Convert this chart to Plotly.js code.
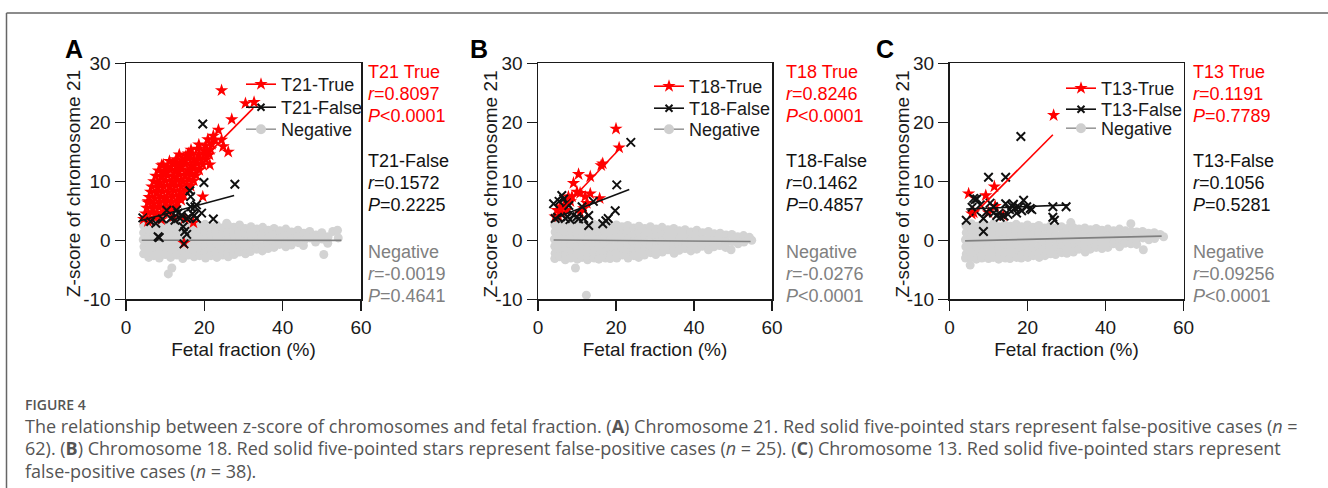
<!DOCTYPE html>
<html><head><meta charset="utf-8">
<script src="https://cdn.plot.ly/plotly-3.0.1.min.js"></script>
<style>html,body{margin:0;padding:0;background:#fff;overflow:hidden}#chart{width:1328px;height:488px}</style>
</head><body><div id="chart"></div>
<script>
// ---------------- DATA ----------------
// Negative samples: [fetal fraction %, z-score]
const negA = [
[4.5,2.5],[4.5,1.3],[4.4,0.1],[4.6,-1.1],[4.5,-2.3],
[5.8,2.8],[5.9,1.6],[5.7,0.5],[5.8,-0.6],[5.9,-1.8],[5.8,-2.9],
[7.2,2.3],[7.1,1.0],[7.3,-0.2],[7.2,-1.4],[7.1,-2.6],
[8.6,2.7],[8.7,1.5],[8.5,0.4],[8.6,-0.8],[8.7,-2.0],[8.5,-3.0],
[10.1,2.4],[10.0,1.2],[10.2,0.0],[10.1,-1.2],[10.0,-2.4],
[11.5,2.9],[11.6,1.7],[11.4,0.6],[11.5,-0.5],[11.6,-1.7],[11.4,-2.9],
[12.9,2.2],[13.0,1.0],[12.8,-0.1],[12.9,-1.3],[13.0,-2.5],
[14.4,2.6],[14.3,1.5],[14.5,0.3],[14.4,-0.9],[14.3,-2.1],[14.5,-3.1],
[15.8,2.4],[15.9,1.2],[15.7,0.0],[15.8,-1.2],[15.9,-2.5],
[17.3,2.8],[17.2,1.6],[17.4,0.5],[17.3,-0.7],[17.2,-1.9],[17.4,-2.8],
[18.7,2.3],[18.8,1.1],[18.6,-0.1],[18.7,-1.3],[18.8,-2.6],
[20.2,2.7],[20.1,1.4],[20.3,0.3],[20.2,-0.9],[20.1,-2.1],[20.3,-3.0],
[21.6,2.2],[21.7,1.0],[21.5,-0.2],[21.6,-1.4],[21.7,-2.6],
[23.1,2.6],[23.0,1.5],[23.2,0.4],[23.1,-0.8],[23.0,-2.0],[23.2,-2.9],
[24.6,2.1],[24.7,0.9],[24.5,-0.3],[24.6,-1.5],[24.7,-2.5],
[26.0,2.5],[25.9,1.3],[26.1,0.2],[26.0,-1.0],[25.9,-2.2],[26.1,-2.8],
[27.5,2.2],[27.6,1.0],[27.4,-0.2],[27.5,-1.3],[27.6,-2.4],
[29.0,2.6],[28.9,1.4],[29.1,0.3],[29.0,-0.9],[28.9,-2.0],
[30.4,2.0],[30.5,0.8],[30.3,-0.3],[30.4,-1.5],[30.5,-2.3],
[31.9,2.3],[31.8,1.2],[32.0,0.1],[31.9,-1.0],[31.8,-1.9],
[33.4,1.9],[33.5,0.7],[33.3,-0.4],[33.4,-1.5],
[34.9,2.2],[34.8,1.0],[35.0,0.0],[34.9,-1.1],[34.8,-1.8],
[36.3,1.7],[36.4,0.5],[36.2,-0.6],[36.3,-1.4],
[37.8,2.0],[37.7,0.9],[37.9,-0.2],[37.8,-1.2],
[39.3,1.6],[39.4,0.4],[39.2,-0.7],
[40.8,1.9],[40.7,0.8],[40.9,-0.3],[40.8,-1.1],
[42.3,1.4],[42.4,0.2],[42.2,-0.8],
[43.9,1.7],[43.8,0.6],[44.0,-0.4],
[45.4,1.2],[45.5,0.0],[45.3,-0.9],
[46.9,1.5],[47.0,0.4],
[48.5,0.9],[48.4,-0.3],
[50.0,1.3],[50.1,0.2],
[51.6,0.6],[51.5,-0.5],
[52.8,1.5],[54.0,1.7],[54.2,0.4],
[11.7,-4.7],[10.8,-5.7],[50.5,-2.4],[25.7,2.9]
];
const negB = [
[4.3,2.6],[4.4,1.4],[4.2,0.2],[4.3,-1.0],[4.4,-2.2],[4.3,-3.1],
[5.7,2.9],[5.8,1.8],[5.6,0.6],[5.7,-0.6],[5.8,-1.7],[5.6,-2.8],
[7.1,2.4],[7.2,1.2],[7.0,0.0],[7.1,-1.2],[7.2,-2.4],[7.0,-3.3],
[8.5,2.8],[8.6,1.6],[8.4,0.4],[8.5,-0.8],[8.6,-2.0],[8.4,-3.0],
[10.0,2.5],[9.9,1.3],[10.1,0.1],[10.0,-1.1],[9.9,-2.3],[10.1,-3.2],
[11.4,2.9],[11.5,1.7],[11.3,0.5],[11.4,-0.7],[11.5,-1.9],[11.3,-2.9],
[12.8,2.4],[12.9,1.2],[12.7,0.0],[12.8,-1.2],[12.9,-2.4],[12.7,-3.3],
[14.3,2.7],[14.2,1.5],[14.4,0.3],[14.3,-0.9],[14.2,-2.1],[14.4,-3.0],
[15.7,2.5],[15.8,1.3],[15.6,0.1],[15.7,-1.1],[15.8,-2.3],[15.6,-3.2],
[17.2,2.8],[17.1,1.6],[17.3,0.4],[17.2,-0.8],[17.1,-2.0],[17.3,-3.0],
[18.6,2.4],[18.7,1.2],[18.5,0.0],[18.6,-1.2],[18.7,-2.4],[18.5,-3.1],
[20.1,2.6],[20.0,1.4],[20.2,0.2],[20.1,-1.0],[20.0,-2.2],[20.2,-3.0],
[21.5,2.3],[21.6,1.1],[21.4,-0.1],[21.5,-1.3],[21.6,-2.5],
[23.0,2.5],[22.9,1.3],[23.1,0.2],[23.0,-1.0],[22.9,-2.2],[23.1,-3.0],
[24.5,2.1],[24.6,0.9],[24.4,-0.3],[24.5,-1.5],[24.6,-2.6],
[25.9,2.4],[26.0,1.2],[25.8,0.0],[25.9,-1.2],[26.0,-2.3],[25.8,-2.9],
[27.4,2.0],[27.3,0.8],[27.5,-0.4],[27.4,-1.5],[27.3,-2.5],
[28.8,2.3],[28.9,1.1],[28.7,0.0],[28.8,-1.1],[28.9,-2.1],
[30.3,1.9],[30.2,0.7],[30.4,-0.4],[30.3,-1.5],[30.2,-2.4],
[31.8,2.2],[31.9,1.0],[31.7,-0.1],[31.8,-1.2],[31.9,-2.0],
[33.3,1.8],[33.2,0.6],[33.4,-0.5],[33.3,-1.6],
[34.8,2.0],[34.9,0.9],[34.7,-0.2],[34.8,-1.3],[34.9,-2.2],
[36.2,1.6],[36.3,0.4],[36.1,-0.7],[36.2,-1.7],
[37.7,1.8],[37.6,0.7],[37.8,-0.4],[37.7,-1.4],
[39.2,1.4],[39.3,0.2],[39.1,-0.9],[39.2,-1.8],
[40.7,1.7],[40.6,0.6],[40.8,-0.5],[40.7,-1.5],
[42.2,1.3],[42.3,0.1],[42.1,-1.0],
[43.7,1.5],[43.8,0.4],[43.6,-0.7],[43.7,-1.6],
[45.2,1.1],[45.3,-0.1],[45.1,-1.1],
[46.7,1.2],[46.8,0.1],[46.6,-0.9],
[48.2,0.9],[48.3,-0.3],[48.1,-1.2],
[49.7,1.0],[49.8,-0.2],
[51.2,0.6],[51.3,-0.6],
[52.7,0.8],[52.8,-0.3],
[54.2,0.5],[54.8,0.0],
[9.6,-4.7],[12.4,-9.3],[49.5,-1.6]
];
const negC = [
[4.2,2.5],[4.3,1.3],[4.1,0.1],[4.2,-1.1],[4.3,-2.3],[4.1,-3.0],
[5.6,2.8],[5.7,1.7],[5.5,0.5],[5.6,-0.7],[5.7,-1.9],[5.5,-2.9],[5.3,-4.2],
[7.0,2.4],[7.1,1.2],[6.9,0.0],[7.0,-1.2],[7.1,-2.4],[6.9,-3.2],
[8.4,2.7],[8.5,1.5],[8.3,0.3],[8.4,-0.9],[8.5,-2.1],[8.3,-3.0],
[9.9,2.4],[9.8,1.2],[10.0,0.0],[9.9,-1.2],[9.8,-2.4],[10.0,-3.1],
[11.3,2.8],[11.4,1.6],[11.2,0.4],[11.3,-0.8],[11.4,-2.0],[11.2,-2.9],
[12.7,2.3],[12.8,1.1],[12.6,-0.1],[12.7,-1.3],[12.8,-2.5],[12.6,-3.2],
[14.2,2.6],[14.1,1.4],[14.3,0.2],[14.2,-1.0],[14.1,-2.2],[14.3,-3.0],
[15.6,2.4],[15.7,1.2],[15.5,0.0],[15.6,-1.2],[15.7,-2.4],[15.5,-3.1],
[17.1,2.7],[17.0,1.5],[17.2,0.3],[17.1,-0.9],[17.0,-2.1],[17.2,-2.9],
[18.5,2.3],[18.6,1.1],[18.4,-0.1],[18.5,-1.3],[18.6,-2.5],[18.4,-3.0],
[20.0,2.6],[19.9,1.4],[20.1,0.2],[20.0,-1.0],[19.9,-2.2],[20.1,-2.9],
[21.4,2.2],[21.5,1.0],[21.3,-0.2],[21.4,-1.4],[21.5,-2.6],
[22.9,2.5],[22.8,1.3],[23.0,0.1],[22.9,-1.1],[22.8,-2.2],[23.0,-2.9],
[24.4,2.1],[24.5,0.9],[24.3,-0.3],[24.4,-1.5],[24.5,-2.6],
[25.8,2.4],[25.9,1.2],[25.7,0.0],[25.8,-1.2],[25.9,-2.3],
[27.3,2.1],[27.2,0.9],[27.4,-0.2],[27.3,-1.4],[27.2,-2.4],
[28.7,2.3],[28.8,1.1],[28.6,0.0],[28.7,-1.1],[28.8,-2.1],
[30.2,2.0],[30.1,0.8],[30.3,-0.3],[30.2,-1.4],[30.1,-2.2],[31.1,3.0],
[31.7,2.2],[31.8,1.0],[31.6,-0.1],[31.7,-1.2],[31.8,-2.0],
[33.2,1.9],[33.1,0.7],[33.3,-0.4],[33.2,-1.5],
[34.7,2.1],[34.8,1.0],[34.6,-0.1],[34.7,-1.2],[34.8,-2.0],
[36.1,1.8],[36.2,0.6],[36.0,-0.5],[36.1,-1.5],
[37.6,2.0],[37.5,0.9],[37.7,-0.2],[37.6,-1.2],
[39.1,1.7],[39.2,0.6],[39.0,-0.5],[39.1,-1.4],
[40.6,1.9],[40.5,0.8],[40.7,-0.3],[40.6,-1.2],
[42.1,1.6],[42.2,0.5],[42.0,-0.6],
[43.6,1.9],[43.5,0.8],[43.7,-0.3],[43.6,-1.1],
[45.1,1.6],[45.2,0.5],[45.0,-0.5],
[46.5,2.8],[46.6,1.5],[46.7,0.4],[46.5,-0.6],
[48.0,1.4],[48.1,0.3],[48.0,-0.7],
[49.5,1.5],[49.6,0.4],[49.7,-1.6],
[51.0,1.2],[51.1,0.1],
[52.5,1.3],[52.6,0.3],
[54.0,1.0],[54.9,0.6]
];
// True cases (red stars)
const trueA = [
[4.5,3.6],[6.1,3.4],[7.4,3.8],[9.0,3.5],[5.6,3.2],
[5.0,4.5],[6.6,4.7],[8.1,4.4],[9.6,4.6],[11.0,4.9],
[5.3,5.5],[6.9,5.3],[8.4,5.6],[9.9,5.4],[11.4,5.7],[12.6,5.6],
[5.6,6.4],[7.1,6.2],[8.6,6.5],[10.1,6.3],[11.6,6.6],[13.1,6.4],[14.1,6.8],
[5.9,7.3],[7.4,7.1],[8.9,7.4],[10.4,7.2],[11.9,7.5],[13.4,7.3],[14.7,7.6],
[6.3,8.2],[7.8,8.0],[9.3,8.3],[10.8,8.1],[12.3,8.4],[13.8,8.2],[15.3,8.5],
[6.6,9.1],[8.1,8.9],[9.6,9.2],[11.1,9.0],[12.6,9.3],[14.1,9.1],[15.6,9.4],[16.5,9.2],
[7.1,10.0],[8.6,9.8],[10.1,10.1],[11.6,9.9],[13.1,10.2],[14.6,10.0],[16.1,10.3],[17.3,10.1],
[7.6,10.9],[9.1,10.7],[10.6,11.0],[12.1,10.8],[13.6,11.1],[15.1,10.9],[16.6,11.2],[17.9,11.0],
[8.3,11.8],[9.8,11.6],[11.3,11.9],[12.8,11.7],[14.3,12.0],[15.8,11.8],[17.3,12.1],[18.7,11.9],
[9.1,12.7],[10.6,12.5],[12.1,12.8],[13.6,12.6],[15.1,12.9],[16.6,12.7],[18.1,13.0],[19.6,12.8],
[11.1,13.4],[12.8,13.7],[14.4,13.5],[15.9,13.8],[17.4,13.6],[18.9,13.9],[20.4,13.7],
[13.6,14.5],[15.3,14.3],[16.9,14.6],[18.5,14.4],[20.1,14.7],[21.3,14.5],
[16.6,15.3],[18.3,15.5],[19.9,15.2],[21.6,15.4],
[18.6,16.2],[20.3,16.0],[21.9,16.3],
[20.9,17.1],[22.7,17.0],
[5.7,6.6],[8.0,9.7],[9.5,12.8],[12.5,13.1],[15.9,14.7],[20.6,15.0],[21.4,12.8],
[26.1,15.0],[24.8,15.9],[24.4,17.0],[23.6,18.7],[22.3,17.7],[27.0,20.5],[24.4,25.4],[30.5,23.2],[32.7,23.4],
[19.6,7.4],[14.8,-0.5],[17.2,3.0],[15.0,3.7],[12.1,4.0]
];
const trueB = [
[20.0,18.9],[20.8,15.7],[16.6,13.0],[16.2,12.7],[10.4,11.2],[13.4,10.8],[9.1,9.7],
[10.0,8.2],[10.8,8.0],[7.8,7.4],[8.7,7.4],[13.4,7.9],[15.8,7.1],[12.1,7.4],
[4.9,5.1],[5.7,5.7],[6.7,6.0],[6.1,4.6],[7.4,5.1],[5.3,4.0],[4.4,4.0],[8.3,6.6],
[12.5,6.3],[10.8,4.7],[11.7,5.4]
];
const trueC = [
[26.7,21.2],[4.9,7.9],[9.3,7.6],[11.5,9.1],[5.7,4.5],[6.2,4.7],[10.0,4.7],[11.7,5.8],[13.8,4.2]
];
// False cases (black crosses)
const falseA = [
[19.6,19.7],[19.9,9.8],[27.8,9.5],[16.3,8.4],[16.5,7.4],[4.3,3.8],[6.3,3.2],[7.6,2.9],
[8.5,0.45],[8.2,0.6],[12.9,5.1],[13.3,4.6],[15.5,3.7],[14.6,2.3],[15.0,1.5],[15.5,1.0],
[14.8,-0.6],[18.0,6.0],[17.6,5.7],[19.3,4.6],[18.0,3.7],[22.3,3.6],[17.0,4.5],[11.4,3.7],
[12.5,3.4],[13.8,3.7],[10.4,5.1],[16.5,5.7],[14.2,4.3],[9.3,3.6],[16.0,3.9],[17.4,4.2]
];
const falseB = [
[23.8,16.6],[20.2,9.4],[19.8,5.0],[4.0,6.2],[6.1,7.6],[6.6,7.0],[7.4,6.3],[7.9,5.9],
[4.4,3.7],[5.0,3.9],[7.0,3.7],[7.6,4.0],[10.0,4.0],[10.4,3.6],[11.7,3.7],[13.0,4.2],
[13.0,2.5],[14.2,6.6],[16.6,2.8],[17.4,3.3],[18.0,3.7],[11.3,5.7],[9.1,4.3],[5.4,6.6],[8.2,3.5]
];
const falseC = [
[18.3,17.6],[10.0,10.7],[14.4,10.7],[6.2,7.1],[7.0,7.0],[6.6,6.9],[4.3,3.4],[8.7,1.5],
[8.7,3.7],[7.9,6.0],[10.4,6.3],[11.3,5.7],[12.7,4.6],[11.3,4.6],[12.1,4.2],[14.4,6.2],
[15.4,5.2],[16.0,5.8],[16.4,6.1],[16.8,5.4],[17.2,4.6],[15.0,4.4],[14.0,4.1],[19.0,6.8],
[19.8,5.7],[20.7,5.4],[21.1,5.2],[26.5,5.7],[29.9,5.7],[26.5,3.9],[26.9,3.4],[13.0,3.9],
[9.5,4.8],[17.8,5.6],[18.5,5.0],[6.8,4.9],[5.8,5.6]
];
// Regression lines (end points)
const fitA_true = {x:[4.0,32.5], y:[3.3,22.4]};
const fitA_false = {x:[3.6,27.6], y:[3.3,7.6]};
const fitA_neg = {x:[4.0,55.0], y:[0.02,-0.02]};
const fitB_true = {x:[4.4,21.5], y:[4.0,15.9]};
const fitB_false = {x:[4.4,23.4], y:[3.8,8.6]};
const fitB_neg = {x:[4.0,54.5], y:[0.05,-0.2]};
const fitC_true = {x:[6.2,26.5], y:[4.4,17.9]};
const fitC_false = {x:[4.3,30.5], y:[5.3,6.0]};
const fitC_neg = {x:[4.0,54.4], y:[-0.1,0.7]};
// Labels
const panelLetters = ['A','B','C'];
const legendNames = [['T21-True','T21-False','Negative'],['T18-True','T18-False','Negative'],['T13-True','T13-False','Negative']];
const statsA = [['T21 True','<i>r</i>=0.8097','<i>P</i>&lt;0.0001'],['T21-False','<i>r</i>=0.1572','<i>P</i>=0.2225'],['Negative','<i>r</i>=-0.0019','<i>P</i>=0.4641']];
const statsB = [['T18 True','<i>r</i>=0.8246','<i>P</i>&lt;0.0001'],['T18-False','<i>r</i>=0.1462','<i>P</i>=0.4857'],['Negative','<i>r</i>=-0.0276','<i>P</i>&lt;0.0001']];
const statsC = [['T13 True','<i>r</i>=0.1191','<i>P</i>=0.7789'],['T13-False','<i>r</i>=0.1056','<i>P</i>=0.5281'],['Negative','<i>r</i>=0.09256','<i>P</i>&lt;0.0001']];
const xTitle = 'Fetal fraction (%)';
const yTitle = 'Z-score of chromosome 21';
const xTicks = [0,20,40,60];
const xTickText = ['0','20','40','60'];
const yTicks = [-10,0,10,20,30];
const yTickText = ['-10','0','10','20','30'];
const captionHead = 'FIGURE 4';
const captionLines = [
 'The relationship between z-score of chromosomes and fetal fraction. (<b>A</b>) Chromosome 21. Red solid five-pointed stars represent false-positive cases (<i>n</i> =',
 '62). (<b>B</b>) Chromosome 18. Red solid five-pointed stars represent false-positive cases (<i>n</i> = 25). (<b>C</b>) Chromosome 13. Red solid five-pointed stars represent',
 'false-positive cases (<i>n</i> = 38).'
];

// ---------------- LAYOUT / STYLE ----------------
const W = 1328, H = 488;
const PX = v => v / W, PY = v => 1 - v / H;
const FONT = 'Liberation Sans, Arial, sans-serif';
const RED = '#ff0000', BLACK = '#111111', DOT = '#d3d3d3', GLINE = '#808080', GTEXT = '#808080';
const AX = '#1a1a1a';

const panels = [
  {neg:negA, tr:trueA, fa:falseA, ft:fitA_true, ff:fitA_false, fn:fitA_neg, stats:statsA,
   xd:[126,361], legL:241, legY:[84,107,129], letX:74, statX:367, ytX:73},
  {neg:negB, tr:trueB, fa:falseB, ft:fitB_true, ff:fitB_false, fn:fitB_neg, stats:statsB,
   xd:[538,772], legL:649, legY:[86,108,129], letX:479, statX:785, ytX:489.5},
  {neg:negC, tr:trueC, fa:falseC, ft:fitC_true, ff:fitC_false, fn:fitC_neg, stats:statsC,
   xd:[949.5,1183.5], legL:1061, legY:[88,109,128], letX:885, statX:1192, ytX:901.5}
];
const yDom = [PY(299.3), PY(63.3)];
const groupTop = [72, 161, 252], lineGap = 22;
const statColors = [RED, BLACK, GTEXT];

const traces = [];
const layout = {
  width: W, height: H, margin: {l:0, r:0, t:0, b:0},
  paper_bgcolor: '#fff', plot_bgcolor: 'rgba(0,0,0,0)',
  font: {family: FONT, color: AX},
  showlegend: true, annotations: [], shapes: []
};

let legendCount = 0;
panels.forEach((p, i) => {
  const s = i === 0 ? '' : String(i + 1);
  const xa = 'x' + s, ya = 'y' + s;
  const common = {xaxis: xa, yaxis: ya, showlegend: false, hoverinfo: 'skip'};
  traces.push(Object.assign({type:'scatter', mode:'markers', x:p.neg.map(d=>d[0]), y:p.neg.map(d=>d[1]),
    marker:{symbol:'circle', size:9, color:DOT}}, common));
  traces.push(Object.assign({type:'scatter', mode:'lines', x:p.fn.x, y:p.fn.y, line:{color:GLINE, width:1.6}}, common));
  traces.push(Object.assign({type:'scatter', mode:'markers', x:p.tr.map(d=>d[0]), y:p.tr.map(d=>d[1]),
    marker:{symbol:'star', size:10, color:RED, line:{width:0}}}, common));
  traces.push(Object.assign({type:'scatter', mode:'markers', x:p.fa.map(d=>d[0]), y:p.fa.map(d=>d[1]),
    marker:{symbol:'x-thin', size:8.5, color:BLACK, line:{color:BLACK, width:2}}}, common));
  traces.push(Object.assign({type:'scatter', mode:'lines', x:p.ft.x, y:p.ft.y, line:{color:RED, width:1.6}}, common));
  traces.push(Object.assign({type:'scatter', mode:'lines', x:p.ff.x, y:p.ff.y, line:{color:BLACK, width:1.6}}, common));
  // legend entries (one small legend per entry for exact row spacing)
  const lstyles = [
    {line:{color:RED, width:1.6}, marker:{symbol:'star', size:10, color:RED}},
    {line:{color:BLACK, width:1.6}, marker:{symbol:'x-thin', size:7, color:BLACK, line:{color:BLACK, width:2}}},
    {line:{color:'#9a9a9a', width:1.6}, marker:{symbol:'circle', size:10, color:'#cfcfcf'}}
  ];
  legendNames[i].forEach((nm, k) => {
    legendCount += 1;
    const lg = legendCount === 1 ? 'legend' : 'legend' + legendCount;
    traces.push(Object.assign({type:'scatter', mode:'lines+markers', x:[null], y:[null], name:nm,
      xaxis:xa, yaxis:ya, legend:lg, showlegend:true, hoverinfo:'skip'}, lstyles[k]));
    layout[lg] = {x:PX(p.legL), y:PY(p.legY[k] - 18), xanchor:'left', yanchor:'top', bgcolor:'rgba(0,0,0,0)',
      borderwidth:0, font:{size:18, color:AX, family:FONT}, itemwidth:30};
  });
  layout['xaxis' + s] = {domain:[PX(p.xd[0]), PX(p.xd[1])], anchor:ya, range:[0,60], tickvals:xTicks, ticktext:xTickText,
    ticks:'outside', ticklen:10, tickwidth:1.5, tickcolor:AX, showline:true, linecolor:AX, linewidth:1.5,
    mirror:true, showgrid:false, zeroline:false, fixedrange:true,
    tickfont:{size:19, color:AX, family:FONT}, title:{text:xTitle, font:{size:19, color:AX, family:FONT}, standoff:6}};
  layout['yaxis' + s] = {domain:yDom, anchor:xa, range:[-10,30], tickvals:yTicks, ticktext:yTickText,
    ticks:'outside', ticklen:10, tickwidth:1.5, tickcolor:AX, showline:true, linecolor:AX, linewidth:1.5,
    mirror:true, showgrid:false, zeroline:false, fixedrange:true,
    tickfont:{size:19, color:AX, family:FONT}};
  // y-axis title placed exactly beside the tick labels
  layout.annotations.push({xref:'paper', yref:'paper', x:PX(p.ytX), y:PY(184), xanchor:'center', yanchor:'middle',
    text:yTitle, textangle:-90, showarrow:false, borderpad:0, font:{size:19, color:AX, family:FONT}});
  // panel letter
  layout.annotations.push({xref:'paper', yref:'paper', x:PX(p.letX), y:PY(49), xanchor:'center', yanchor:'middle',
    text:'<b>' + panelLetters[i] + '</b>', showarrow:false, font:{size:25, color:'#000', family:FONT}});
  // stats text
  p.stats.forEach((grp, g) => {
    grp.forEach((t, k) => {
      layout.annotations.push({xref:'paper', yref:'paper', x:PX(p.statX), y:PY(groupTop[g] + k*lineGap),
        xanchor:'left', yanchor:'middle', text:t, showarrow:false, borderpad:0,
        font:{size:18, color:statColors[g], family:FONT}});
    });
  });
});

// caption
layout.annotations.push({xref:'paper', yref:'paper', x:PX(24), y:PY(404), xanchor:'left', yanchor:'middle',
  text:captionHead, showarrow:false, borderpad:0, font:{size:14, color:'#555555', family:'Open Sans', weight:600}});
captionLines.forEach((t, k) => {
  layout.annotations.push({xref:'paper', yref:'paper', x:PX(24), y:PY(425.5 + k*22.6), xanchor:'left', yanchor:'middle',
    text:t, showarrow:false, borderpad:0, font:{size:18, color:'#555555', family:'Open Sans'}});
});
// figure frame
layout.shapes.push({type:'line', xref:'paper', yref:'paper', x0:PX(6.5), x1:1, y0:PY(13), y1:PY(13), line:{color:'#666', width:1.5}});
layout.shapes.push({type:'line', xref:'paper', yref:'paper', x0:PX(6.5), x1:PX(6.5), y0:PY(13), y1:0, line:{color:'#666', width:1.5}});

Plotly.newPlot('chart', traces, layout, {staticPlot:true, displayModeBar:false});
</script></body></html>
